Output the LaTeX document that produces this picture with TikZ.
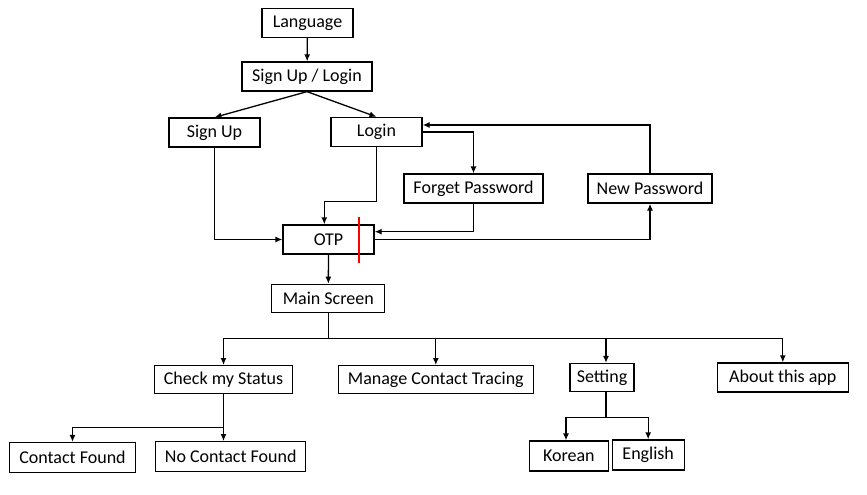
\documentclass[tikz,border=0pt]{standalone}
\usepackage{fontspec}
\setmainfont{Carlito}
\usetikzlibrary{arrows.meta}
\begin{document}
\begin{tikzpicture}[x=1pt, y=-1pt, line width=1.3pt,
		box/.style={draw, minimum height=29pt, inner sep=0pt, font=\fontsize{18}{21}\selectfont},
		arr/.style={-{Latex[length=7pt, width=6pt]}}]
			\useasboundingbox (0,0) rectangle (867,495);
			\node[box, minimum width=91pt] (lang) at (307.5,23) {Language};
			\node[box, minimum width=130pt] (sul) at (307,76.5) {Sign Up / Login};
			\node[box, minimum width=91pt] (signup) at (214.5,132.5) {Sign Up};
			\node[box, minimum width=91pt] (login) at (376.5,132) {Login};
			\node[box, minimum width=139pt] (forget) at (473.5,188.5) {Forget Password};
			\node[box, minimum width=124pt] (newpw) at (650,188.5) {New Password};
			\node[box, minimum width=91pt] (otp) at (328.5,239.5) {OTP};
			\node[box, minimum width=113pt, minimum height=28pt] (main) at (328.3,298.3) {Main Screen};
			\node[box, minimum width=138pt, minimum height=28pt] (check) at (223.5,379.7) {Check my Status};
			\node[box, minimum width=195pt, minimum height=28pt] (manage) at (435.8,379.7) {Manage Contact Tracing};
			\node[box, minimum width=64pt, minimum height=28pt] (setting) at (602,377.5) {Setting};
			\node[box, minimum width=131pt] (about) at (782.8,377.5) {About this app};
			\node[box, minimum width=126pt, minimum height=30pt] (cfound) at (72.5,457.5) {Contact Found};
			\node[box, minimum width=150pt, minimum height=30pt] (ncfound) at (230.7,456.7) {No Contact Found};
			\node[box, minimum width=79pt, minimum height=30pt] (korean) at (568.8,456) {Korean};
			\node[box, minimum width=72pt, minimum height=30pt] (english) at (648.2,455) {English};
			
			\draw[arr] (lang) -- (sul);
			\draw[arr] (sul.south) -- (signup.north);
			\draw[arr] (sul.south) -- (login.north);
			\draw[arr] (signup.south) |- (otp.west);
			\draw[arr] (login.south) -- ++(0,54) -| ([xshift=-4.2pt]otp.north);
			\draw[arr] (login.east) -| (forget.north);
			\draw[arr] (forget.south) |- ([yshift=7.8pt]otp.east);
			\draw[arr] (otp.east) -| (newpw.south);
			\draw[arr] (newpw.north) |- ([yshift=7pt]login.east);
			\draw[draw=red, line width=2pt] ([xshift=30.8pt, yshift=7.5pt]otp.north) -- ([xshift=30.8pt, yshift=-8.5pt]otp.south);
			\draw[arr] (otp) -- (main);
			
			\draw (main.south) -- ++(0,25.4) coordinate (mbus);
			\draw[arr] (mbus) -| (check.north);
			\draw[arr] (mbus) -| (manage.north);
			\draw[arr] (mbus) -| ([xshift=4pt]setting.north);
			\draw[arr] (mbus) -| (about.north);
			
			\draw (check.south) -- ++(0,33) coordinate (cbus);
			\draw[arr] (cbus) -| (cfound.north);
			\draw[arr] (cbus) -- (cbus |- ncfound.north);
			
			\draw ([xshift=4pt]setting.south) -- ++(0,25) coordinate (sbus);
			\draw[arr] (sbus) -| ([xshift=-2.8pt]korean.north);
			\draw[arr] (sbus) -| (english.north);
		\end{tikzpicture}
\end{document}
